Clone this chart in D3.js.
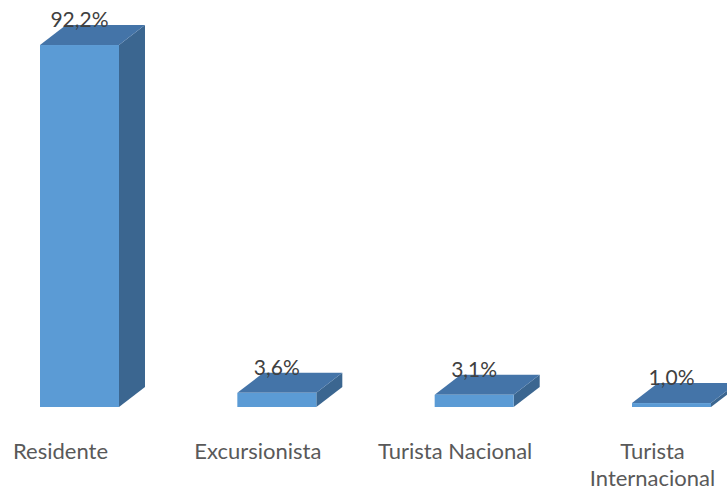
<!DOCTYPE html>
<html>
<head>
<meta charset="utf-8">
<script src="https://cdn.jsdelivr.net/npm/d3@7"></script>
<style>
  html, body { margin: 0; padding: 0; background: #fff; overflow: hidden; }
  text { font-family: Lato, "Open Sans", sans-serif; }
</style>
</head>
<body>
<div id="chart"></div>
<script>
var categories = ['Residente', 'Excursionista', 'Turista Nacional', 'Turista Internacional'];
var labelLines = [['Residente'], ['Excursionista'], ['Turista Nacional'], ['Turista', 'Internacional']];
var values = [92.2, 3.6, 3.1, 1.0];
var valueLabels = ['92,2%', '3,6%', '3,1%', '1,0%'];

var W = 727, H = 494;
var barW = 79, dx = 26, dy = -20;
var svg = d3.select('#chart').append('svg').attr('width', W).attr('height', H);

var x = d3.scalePoint().domain(categories).range([79.5, 671.5]);
var y = d3.scaleLinear().domain([0, 100]).range([407, 14.4]);

var g = svg.append('g');
var bars = g.selectAll('g.bar').data(categories).enter().append('g').attr('class', 'bar');

bars.each(function(c, i) {
    var x0 = x(c) - barW / 2, x1 = x(c) + barW / 2;
    var yt = y(values[i]), yb = y(0);
    var b = d3.select(this);
    // side
    b.append('polygon')
        .attr('points', [[x1, yt], [x1 + dx, yt + dy], [x1 + dx, yb + dy], [x1, yb]].join(' '))
        .attr('fill', '#3B6690');
    // top
    b.append('polygon')
        .attr('points', [[x0, yt], [x0 + dx, yt + dy], [x1 + dx, yt + dy], [x1, yt]].join(' '))
        .attr('fill', '#4474A8');
    // front
    b.append('rect')
        .attr('x', x0).attr('y', yt).attr('width', barW).attr('height', yb - yt)
        .attr('fill', '#5B9BD5');
    b.append('text')
        .attr('x', x(c)).attr('y', yt - 18)
        .attr('text-anchor', 'middle')
        .attr('font-size', '21px')
        .attr('fill', '#404040')
        .text(valueLabels[i]);
});

var cat = svg.selectAll('text.cat').data(categories).enter().append('text')
    .attr('class', 'cat')
    .attr('text-anchor', 'middle')
    .attr('font-size', '22px')
    .attr('fill', '#595959');
cat.each(function(c, i) {
    var t = d3.select(this);
    labelLines[i].forEach(function(line, j) {
        t.append('tspan').attr('x', x(c) - 19).attr('y', 459 + j * 26.5).text(line);
    });
});
</script>
</body>
</html>
